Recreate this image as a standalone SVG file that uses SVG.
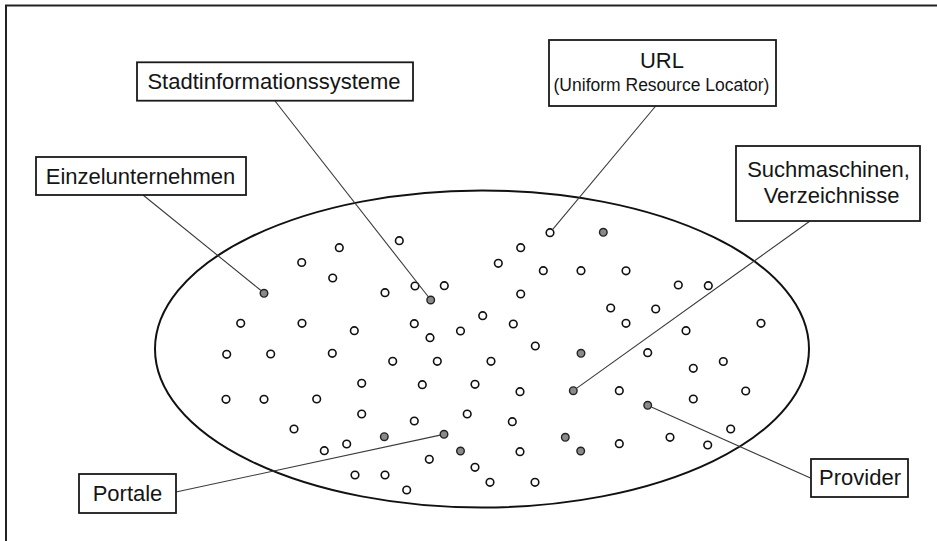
<svg xmlns="http://www.w3.org/2000/svg" width="937" height="541" viewBox="0 0 937 541">
<style>
.frame{fill:none;stroke:#222;stroke-width:2}
.box{fill:#fff;stroke:#1a1a1a;stroke-width:1.8}
.lbl{font-family:"Liberation Sans",Arial,sans-serif;font-size:22px;fill:#151515;text-anchor:middle}
.sub{font-size:17.5px}
.conn{stroke:#3a3a3a;stroke-width:1.1;fill:none}
.ell{fill:none;stroke:#111;stroke-width:2}
.o{fill:#fff;stroke:#111;stroke-width:1.6}
.f{fill:#8a8a8a;stroke:#222;stroke-width:1.4}
</style>
<rect width="937" height="541" fill="#fff"/>
<path class="frame" d="M6,541 V5.5 H937"/>
<ellipse class="ell" cx="482" cy="349" rx="327" ry="158.5"/>
<g id="dots">
<circle class="o" cx="301.7" cy="262.5" r="3.8"/>
<circle class="f" cx="264" cy="293.3" r="3.8"/>
<circle class="o" cx="240.7" cy="323.3" r="3.8"/>
<circle class="o" cx="302" cy="323.3" r="3.8"/>
<circle class="o" cx="226.7" cy="354.3" r="3.8"/>
<circle class="o" cx="270.7" cy="354" r="3.8"/>
<circle class="o" cx="399.3" cy="240.7" r="3.8"/>
<circle class="o" cx="339.3" cy="247.7" r="3.8"/>
<circle class="o" cx="332.7" cy="278" r="3.8"/>
<circle class="o" cx="415" cy="286" r="3.8"/>
<circle class="o" cx="444.3" cy="285.7" r="3.8"/>
<circle class="o" cx="385" cy="292.7" r="3.8"/>
<circle class="f" cx="430.7" cy="300" r="3.8"/>
<circle class="o" cx="414.3" cy="323.7" r="3.8"/>
<circle class="o" cx="354.3" cy="330.7" r="3.8"/>
<circle class="o" cx="430" cy="337.7" r="3.8"/>
<circle class="o" cx="460.5" cy="331" r="3.8"/>
<circle class="o" cx="332.3" cy="353.3" r="3.8"/>
<circle class="o" cx="392.7" cy="361.3" r="3.8"/>
<circle class="o" cx="437.3" cy="361.3" r="3.8"/>
<circle class="o" cx="550" cy="232.7" r="3.8"/>
<circle class="f" cx="603.3" cy="232.3" r="3.8"/>
<circle class="o" cx="520.7" cy="247.7" r="3.8"/>
<circle class="o" cx="498.3" cy="263.3" r="3.8"/>
<circle class="o" cx="543.3" cy="270.7" r="3.8"/>
<circle class="o" cx="581" cy="270.7" r="3.8"/>
<circle class="o" cx="626" cy="270.8" r="3.8"/>
<circle class="o" cx="520.7" cy="294" r="3.8"/>
<circle class="o" cx="610.7" cy="308" r="3.8"/>
<circle class="o" cx="482.7" cy="315.7" r="3.8"/>
<circle class="o" cx="513.3" cy="324" r="3.8"/>
<circle class="o" cx="626" cy="323.3" r="3.8"/>
<circle class="o" cx="535.3" cy="346" r="3.8"/>
<circle class="f" cx="581" cy="353.3" r="3.8"/>
<circle class="o" cx="491" cy="361.3" r="3.8"/>
<circle class="o" cx="678.3" cy="285" r="3.8"/>
<circle class="o" cx="708.3" cy="285.7" r="3.8"/>
<circle class="o" cx="655.7" cy="309" r="3.8"/>
<circle class="o" cx="761" cy="323.3" r="3.8"/>
<circle class="o" cx="686" cy="330.7" r="3.8"/>
<circle class="o" cx="647.7" cy="352.7" r="3.8"/>
<circle class="o" cx="723.3" cy="361.5" r="3.8"/>
<circle class="o" cx="693.3" cy="368.3" r="3.8"/>
<circle class="o" cx="619.3" cy="390.7" r="3.8"/>
<circle class="o" cx="745.7" cy="391" r="3.8"/>
<circle class="o" cx="693.3" cy="399" r="3.8"/>
<circle class="f" cx="647.7" cy="405.3" r="3.8"/>
<circle class="o" cx="730.7" cy="429" r="3.8"/>
<circle class="o" cx="670" cy="437.3" r="3.8"/>
<circle class="o" cx="619.3" cy="443.7" r="3.8"/>
<circle class="o" cx="707.7" cy="445" r="3.8"/>
<circle class="o" cx="475" cy="384.3" r="3.8"/>
<circle class="o" cx="520" cy="391.7" r="3.8"/>
<circle class="f" cx="573.3" cy="390.7" r="3.8"/>
<circle class="o" cx="467.2" cy="414" r="3.8"/>
<circle class="o" cx="512.3" cy="421.7" r="3.8"/>
<circle class="f" cx="565.3" cy="437.3" r="3.8"/>
<circle class="f" cx="460.5" cy="451" r="3.8"/>
<circle class="o" cx="520" cy="451.7" r="3.8"/>
<circle class="f" cx="580.7" cy="451" r="3.8"/>
<circle class="o" cx="475" cy="467.3" r="3.8"/>
<circle class="o" cx="490" cy="482.3" r="3.8"/>
<circle class="o" cx="535" cy="482.3" r="3.8"/>
<circle class="o" cx="361.7" cy="383.3" r="3.8"/>
<circle class="o" cx="422.3" cy="384.7" r="3.8"/>
<circle class="o" cx="316.7" cy="399" r="3.8"/>
<circle class="o" cx="361.7" cy="414" r="3.8"/>
<circle class="o" cx="414.3" cy="421" r="3.8"/>
<circle class="f" cx="384.3" cy="436.7" r="3.8"/>
<circle class="f" cx="444" cy="434.3" r="3.8"/>
<circle class="o" cx="346.7" cy="444" r="3.8"/>
<circle class="o" cx="324.3" cy="450.7" r="3.8"/>
<circle class="o" cx="429.3" cy="459.3" r="3.8"/>
<circle class="o" cx="355" cy="475" r="3.8"/>
<circle class="o" cx="385" cy="475" r="3.8"/>
<circle class="o" cx="406.7" cy="490" r="3.8"/>
<circle class="o" cx="226" cy="399.3" r="3.8"/>
<circle class="o" cx="264" cy="399.3" r="3.8"/>
<circle class="o" cx="294" cy="429" r="3.8"/>
</g>
<g id="connectors">
<line class="conn" x1="143" y1="195" x2="261" y2="290.5"/>
<line class="conn" x1="275" y1="101" x2="428.5" y2="297"/>
<line class="conn" x1="655.7" y1="106" x2="552.3" y2="229.8"/>
<line class="conn" x1="810" y1="221" x2="576.5" y2="388.4"/>
<line class="conn" x1="176" y1="492" x2="440.2" y2="435.1"/>
<line class="conn" x1="811" y1="478.3" x2="651.3" y2="407"/>
</g>
<g id="n-einzel">
<rect class="box" x="36" y="157" width="210" height="38"/>
<text class="lbl" x="140.5" y="184.3">Einzelunternehmen</text>
</g>
<g id="n-stadt">
<rect class="box" x="137" y="62.3" width="276" height="38.4"/>
<text class="lbl" x="274" y="89.3">Stadtinformationssysteme</text>
</g>
<g id="n-url">
<rect class="box" x="549" y="40" width="227" height="66"/>
<text class="lbl" x="662" y="68.3">URL</text>
<text class="lbl sub" x="661.5" y="90.7">(Uniform Resource Locator)</text>
</g>
<g id="n-such">
<rect class="box" x="736" y="146" width="184" height="75"/>
<text class="lbl" x="828.5" y="176.7">Suchmaschinen,</text>
<text class="lbl" x="831.5" y="203.3">Verzeichnisse</text>
</g>
<g id="n-portale">
<rect class="box" x="79" y="474" width="97" height="39"/>
<text class="lbl" x="127.5" y="501">Portale</text>
</g>
<g id="n-provider">
<rect class="box" x="811" y="459" width="97" height="38"/>
<text class="lbl" x="860" y="485">Provider</text>
</g>
</svg>
